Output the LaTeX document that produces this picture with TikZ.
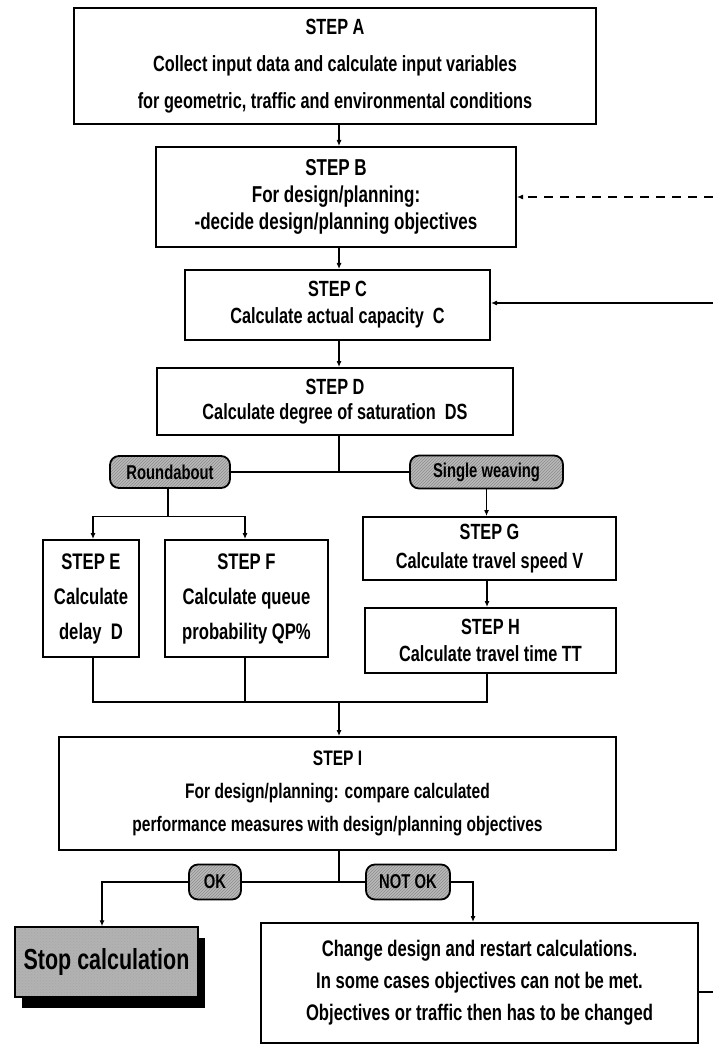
\documentclass[tikz,border=0pt]{standalone}
\usepackage{fontspec}
\newfontfamily\nf[FakeStretch=0.74]{Liberation Sans}
\usetikzlibrary{arrows.meta,shadows,patterns,calc}
\begin{document}
\begin{tikzpicture}[x=1pt,y=-1pt,
  box/.style 2 args={draw,line width=2pt,rectangle,inner sep=0pt,align=center,
    font=\nf\bfseries\fontsize{#1}{#2}\selectfont},
  pill/.style={draw,line width=1.8pt,rounded corners=9pt,
    preaction={fill=gray!55},pattern=north east lines,pattern color=black!45,
    inner sep=0pt,font=\nf\bfseries\fontsize{20}{20}\selectfont},
  ln/.style={line width=1.1pt},
  arr/.style={line width=1.1pt,-{Latex[length=6pt,width=5pt]}}]
\useasboundingbox (0,0) rectangle (713,1048);
\coordinate (sp) at (339,0);
% boxes
\node[box={22}{37},minimum width=522,minimum height=116] (A) at (335,66)
  {STEP A\\Collect input data and calculate input variables\\for geometric, traffic and environmental conditions};
\node[box={23}{27},minimum width=360,minimum height=100] (B) at (336,197)
  {STEP B\\For design/planning:\\-decide design/planning objectives};
\node[box={22}{27},minimum width=305,minimum height=70] (C) at (337.5,305)
  {STEP C\\Calculate actual capacity\ \ C};
\node[box={22}{25},minimum width=356,minimum height=67] (D) at (335,401.5)
  {STEP D\\Calculate degree of saturation\ \ DS};
\node[pill,minimum width=120,minimum height=32] (R) at (170,472) {Roundabout};
\node[pill,minimum width=153,minimum height=33] (S) at (486.5,472) {Single weaving};
\node[box={22.5}{35},minimum width=96,minimum height=117] (E) at (91,598.5)
  {STEP E\\Calculate\\delay\ \ D};
\node[box={22.5}{35},minimum width=163,minimum height=117] (F) at (246.5,598.5)
  {STEP F\\Calculate queue\\probability QP\%};
\node[box={22}{29},minimum width=253,minimum height=63] (G) at (489.5,548.5)
  {STEP G\\Calculate travel speed V};
\node[box={22}{27},minimum width=251,minimum height=65] (H) at (490.5,640.5)
  {STEP H\\Calculate travel time TT};
\node[box={21}{33},minimum width=557,minimum height=113] (I) at (337.5,793.5)
  {STEP I\\For design/planning: compare calculated\\performance measures with design/planning objectives};
\node[pill,minimum width=52,minimum height=35] (OK) at (215,882) {OK};
\node[pill,minimum width=84,minimum height=35] (NOK) at (408,882) {NOT OK};
\node[drop shadow={shadow xshift=7pt,shadow yshift=-11pt,fill=black,opacity=1},
  preaction={fill=gray!60},pattern=crosshatch dots,pattern color=black!35,
  draw,line width=1.5pt,minimum width=183,minimum height=70,inner sep=0pt,
  font=\nf\bfseries\fontsize{29}{29}\selectfont] (Stop) at (106.5,962)
  {Stop calculation};
\node[box={22.5}{32},minimum width=437,minimum height=120] (Chg) at (479.5,983)
  {Change design and restart calculations.\\In some cases objectives can not be met.\\Objectives or traffic then has to be changed};
% connectors
\draw[arr] (A.south -| sp) -- (B.north -| sp);
\draw[arr] (B.south -| sp) -- (C.north -| sp);
\draw[arr] (C.south -| sp) -- (D.north -| sp);
\draw[ln] (D.south -| sp) -- (sp |- R.east);
\draw[ln] (R.east) -- (S.west);
\coordinate (rj) at ($(R.south)+(-2,28)$);
\draw[ln] ($(R.south)+(-2,0)$) -- (rj);
\draw[arr] (rj) -| ($(E.north)+(2,0)$);
\draw[arr] (rj) -| ($(F.north)+(-1.5,0)$);
\draw[arr] (S.south) -- (S.south |- G.north);
\draw[arr] ($(G.south)+(-2.5,0)$) -- ($(G.south |- H.north)+(-2.5,0)$);
\coordinate (cj) at (339,702);
\draw[ln] ($(E.south)+(2,0)$) |- (cj);
\draw[ln] ($(F.south)+(-1.5,0)$) |- (cj);
\draw[ln] ($(H.south)+(-3.5,0)$) |- (cj);
\draw[arr] (cj) -- (cj |- I.north);
\coordinate (oj) at (339,882);
\draw[ln] (I.south -| sp) -- (oj);
\draw[ln] (oj) -- (OK.east);
\draw[ln] (oj) -- (NOK.west);
\draw[arr] (OK.west) -| ($(Stop.north)+(-4.5,0)$);
\draw[arr] (NOK.east) -| ($(Chg.north)+(-6.5,0)$);
\coordinate (fb) at (713,197);
\coordinate (fc) at (713,303);
\coordinate (fx) at (713,992);
\draw[arr,dashed,dash pattern=on 9pt off 7pt] (fb) -- (B.east |- fb);
\draw[arr] (fc) -- (C.east |- fc);
\draw[ln] (Chg.east |- fx) -- (fx);
\end{tikzpicture}
\end{document}
